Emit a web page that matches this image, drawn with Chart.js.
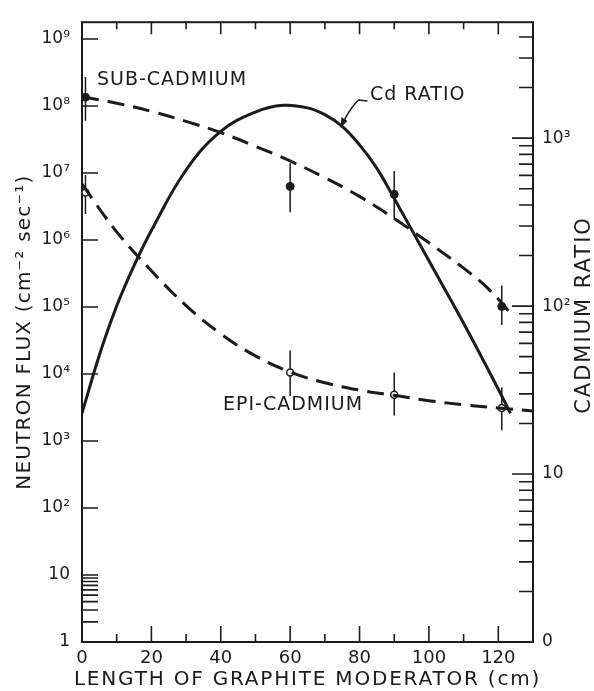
<!DOCTYPE html>
<html>
<head>
<meta charset="utf-8">
<title>Neutron flux vs graphite moderator length</title>
<script src="https://cdn.jsdelivr.net/npm/chart.js@4.4.1/dist/chart.umd.min.js"></script>
<style>
  html, body { margin: 0; padding: 0; background: #fff; }
  canvas { display: block; }
</style>
</head>
<body>
<canvas id="fluxChart" width="594" height="691"></canvas>
<script>
// curves: length of graphite moderator (cm) -> value
const subX = [0, 10, 20, 30, 40, 50, 60, 70, 80, 90, 100, 110, 117, 124];
const subFlux = [1.38e8, 1.1e8, 8.3e7, 5.9e7, 4.0e7, 2.5e7, 1.51e7, 8.5e6, 4.47e6, 2.09e6, 9.1e5, 3.8e5, 1.9e5, 7.6e4];
const epiX = [0, 10, 20, 30, 40, 50, 60, 70, 80, 90, 100, 110, 120, 130];
const epiFlux = [6.8e6, 1.32e6, 3.47e5, 1.05e5, 3.98e4, 1.86e4, 1.07e4, 7.4e3, 5.75e3, 4.8e3, 4.0e3, 3.47e3, 3.1e3, 2.8e3];
const cdX = [0, 5, 10, 15, 20, 30, 40, 50, 58, 65, 70, 75, 80, 85, 90, 100, 110, 120, 123.5];
const cdRatio = [23, 51, 100, 174, 282, 646, 1096, 1430, 1567, 1514, 1380, 1175, 912, 661, 437, 186, 79, 32, 23];

// measured points with their error bars
const measX = [1, 60, 90, 121];
const subMeas = [1.35e8, 6.3e6, 4.8e6, 1.02e5];
const subLow = [6.0e7, 2.6e6, 2.0e6, 5.4e4];
const subHigh = [2.7e8, 1.4e7, 1.07e7, 2.1e5];
const epiMeas = [5.1e6, 1.05e4, 4.9e3, 3.1e3];
const epiLow = [2.45e6, 4.7e3, 2.4e3, 1.45e3];
const epiHigh = [9.3e6, 2.24e4, 1.05e4, 6.3e3];

// tick labels
const xTicks = [0, 20, 40, 60, 80, 100, 120];
const fluxTicks = [1, 10, 1e2, 1e3, 1e4, 1e5, 1e6, 1e7, 1e8, 1e9];
const fluxLabels = ["1", "10", "10\u00B2", "10\u00B3", "10\u2074", "10\u2075", "10\u2076", "10\u2077", "10\u2078", "10\u2079"];
const ratioTicks = [1, 10, 100, 1000];
const ratioLabels = ["0", "10", "10\u00B2", "10\u00B3"];

const ink = "#1b1b1b";
const family = '"DejaVu Sans", sans-serif';

const toXY = (xs, ys) => xs.map((x, i) => ({ x: x, y: ys[i] }));

function drawText(ctx, str, x, y, size, rot, spacing, align) {
  ctx.save();
  ctx.translate(x, y);
  ctx.rotate(rot);
  ctx.font = size + "px " + family;
  ctx.letterSpacing = spacing + "px";
  ctx.fillStyle = ink;
  ctx.textAlign = align;
  ctx.textBaseline = "middle";
  ctx.fillText(str, 0, 0);
  ctx.restore();
}

const paperPlugin = {
  id: "paper",
  beforeDatasetsDraw(chart) {
    const { ctx, chartArea: a, scales } = chart;
    const x = scales.x, y = scales.y, y2 = scales.y2;
    ctx.save();
    ctx.strokeStyle = ink;
    ctx.lineWidth = 2;
    ctx.strokeRect(a.left, a.top, a.right - a.left, a.bottom - a.top);

    ctx.lineWidth = 1.6;
    ctx.beginPath();
    // ticks on bottom and top, every 10 cm
    for (let v = 10; v <= 120; v += 10) {
      const px = x.getPixelForValue(v);
      const major = v % 20 === 0;
      ctx.moveTo(px, a.bottom); ctx.lineTo(px, a.bottom - (major ? 16 : 8));
      ctx.moveTo(px, a.top); ctx.lineTo(px, a.top + (major ? 12 : 7));
    }
    // left flux ticks: decades plus the 2..9 subdivision of the first decade
    const leftMarks = fluxTicks.slice(1);
    for (let m = 2; m <= 9; m++) leftMarks.push(m);
    leftMarks.forEach(v => {
      const py = y.getPixelForValue(v);
      ctx.moveTo(a.left, py); ctx.lineTo(a.left + 16, py);
    });
    // right ratio ticks
    ratioTicks.slice(1).forEach(v => {
      const py = y2.getPixelForValue(v);
      ctx.moveTo(a.right, py); ctx.lineTo(a.right - 21, py);
    });
    for (let d = 1; d <= 1000; d *= 10) {
      for (let m = 2; m <= 9; m++) {
        const v = m * d;
        if (v > y2.max) break;
        const py = y2.getPixelForValue(v);
        ctx.moveTo(a.right, py); ctx.lineTo(a.right - 14, py);
      }
    }
    ctx.stroke();

    // error bars
    ctx.lineWidth = 1.5;
    ctx.beginPath();
    measX.forEach((v, i) => {
      const px = x.getPixelForValue(v);
      ctx.moveTo(px, y.getPixelForValue(subLow[i])); ctx.lineTo(px, y.getPixelForValue(subHigh[i]));
      ctx.moveTo(px, y.getPixelForValue(epiLow[i])); ctx.lineTo(px, y.getPixelForValue(epiHigh[i]));
    });
    ctx.stroke();
    ctx.restore();
  },
  afterDraw(chart) {
    const { ctx, chartArea: a, scales } = chart;
    const x = scales.x, y2 = scales.y2;
    const cx = (a.left + a.right) / 2;
    drawText(ctx, "LENGTH OF GRAPHITE MODERATOR (cm)", cx, 680, 20, 0, 1.8, "center");
    drawText(ctx, "NEUTRON FLUX (cm\u207B\u00B2 sec\u207B\u00B9)", 25, (a.top + a.bottom) / 2, 20, -Math.PI / 2, 1.2, "center");
    drawText(ctx, "CADMIUM RATIO", 585, 315, 21, -Math.PI / 2, 2, "center");

    drawText(ctx, "SUB-CADMIUM", 97, 80, 19, 0, 1, "left");
    drawText(ctx, "EPI-CADMIUM", 223, 405, 19, 0, 1, "left");
    drawText(ctx, "Cd RATIO", 370, 95, 19, 0, 1, "left");

    // leader arrow from the "Cd RATIO" label to its curve
    const tx = x.getPixelForValue(74.5);
    const ty = y2.getPixelForValue(1150);
    ctx.save();
    ctx.strokeStyle = ink;
    ctx.fillStyle = ink;
    ctx.lineWidth = 1.5;
    ctx.beginPath();
    ctx.moveTo(tx + 27, ty - 27);
    ctx.lineTo(tx + 18, ty - 28);
    ctx.quadraticCurveTo(tx + 10, ty - 20, tx + 4, ty - 8);
    ctx.stroke();
    ctx.beginPath();
    ctx.moveTo(tx, ty);
    ctx.lineTo(tx + 1, ty - 11);
    ctx.lineTo(tx + 7, ty - 7);
    ctx.closePath();
    ctx.fill();
    ctx.restore();
  }
};

const lineBase = {
  borderColor: ink,
  borderWidth: 3,
  pointRadius: 0,
  fill: false,
  tension: 0.4,
  borderCapStyle: "butt"
};

const config = {
  type: "line",
  data: {
    datasets: [
      Object.assign({}, lineBase, { label: "SUB-CADMIUM", data: toXY(subX, subFlux), yAxisID: "y", borderDash: [17, 9] }),
      Object.assign({}, lineBase, { label: "EPI-CADMIUM", data: toXY(epiX, epiFlux), yAxisID: "y", borderDash: [17, 9] }),
      Object.assign({}, lineBase, { label: "Cd RATIO", data: toXY(cdX, cdRatio), yAxisID: "y2" }),
      {
        label: "sub-cadmium measured",
        data: toXY(measX, subMeas),
        yAxisID: "y",
        showLine: false,
        pointRadius: 4,
        pointBackgroundColor: ink,
        pointBorderColor: ink,
        pointBorderWidth: 1
      },
      {
        label: "epi-cadmium measured",
        data: toXY(measX, epiMeas),
        yAxisID: "y",
        showLine: false,
        pointRadius: 3.5,
        pointBackgroundColor: "#fff",
        pointBorderColor: ink,
        pointBorderWidth: 1.5
      }
    ]
  },
  options: {
    responsive: false,
    animation: false,
    layout: { padding: { top: 12, left: 0, right: 0, bottom: 0 } },
    plugins: {
      legend: { display: false },
      tooltip: { enabled: false }
    },
    scales: {
      x: {
        type: "linear",
        min: 0,
        max: 130,
        grid: { display: false, drawTicks: false },
        border: { display: false },
        ticks: { color: ink, font: { family: family, size: 18 }, padding: 6, maxRotation: 0, autoSkip: false },
        afterBuildTicks: s => { s.ticks = xTicks.map(v => ({ value: v })); },
        afterFit: s => { s.height = 49; }
      },
      y: {
        type: "logarithmic",
        position: "left",
        min: 1,
        max: 1.78e9,
        grid: { display: false, drawTicks: false },
        border: { display: false },
        ticks: {
          color: ink,
          font: { family: family, size: 17 },
          padding: 12,
          autoSkip: false,
          callback: (v, i) => fluxLabels[i]
        },
        afterBuildTicks: s => { s.ticks = fluxTicks.map(v => ({ value: v })); },
        afterFit: s => { s.width = 82; }
      },
      y2: {
        type: "logarithmic",
        position: "right",
        min: 1,
        max: 4900,
        grid: { display: false, drawTicks: false },
        border: { display: false },
        ticks: {
          color: ink,
          font: { family: family, size: 17 },
          padding: 9,
          autoSkip: false,
          callback: (v, i) => ratioLabels[i]
        },
        afterBuildTicks: s => { s.ticks = ratioTicks.map(v => ({ value: v })); },
        afterFit: s => { s.width = 61; }
      }
    }
  },
  plugins: [paperPlugin]
};

const fluxChart = new Chart(document.getElementById("fluxChart").getContext("2d"), config);
</script>
</body>
</html>
